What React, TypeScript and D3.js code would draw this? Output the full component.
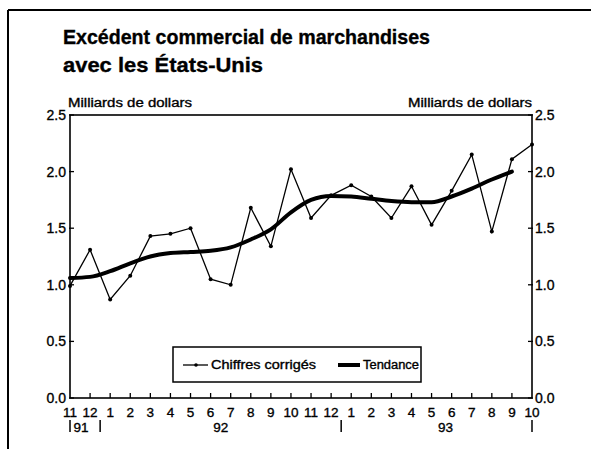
import React from 'react';
import * as d3 from 'd3';

// monthly values, Nov 1991 .. Oct 1993 (billions of dollars)
const monthLabels = ['11', '12', '1', '2', '3', '4', '5', '6', '7', '8', '9', '10', '11', '12', '1', '2', '3', '4', '5', '6', '7', '8', '9', '10'];
const chiffresCorriges = [0.99, 1.31, 0.87, 1.08, 1.43, 1.45, 1.50, 1.05, 1.00, 1.68, 1.34, 2.02, 1.59, 1.79, 1.88, 1.78, 1.59, 1.87, 1.53, 1.83, 2.15, 1.47, 2.11, 2.24];
const tendance = [1.06, 1.07, 1.12, 1.19, 1.25, 1.28, 1.29, 1.30, 1.33, 1.40, 1.49, 1.64, 1.75, 1.785, 1.78, 1.76, 1.74, 1.73, 1.73, 1.78, 1.85, 1.93, 2.00];
const yTicks = [0, 0.5, 1.0, 1.5, 2.0, 2.5];
const years = ['91', '92', '93'];
const yearBreaks = [0, 1.5, 13.5, 23]; // month index of the year separators
const yearLabelPos = [0.55, 7.5, 18.7];

const W = 591, H = 449;
const plot = { left: 70, right: 532, top: 115, bottom: 398 };
const font = '"Liberation Sans", Arial, Helvetica, sans-serif';
// scanned print looks heavier than a plain regular face
const ink = { fill: '#000', stroke: '#000', strokeWidth: 0.35 };

export default function App() {
  const x = d3.scaleLinear().domain([0, monthLabels.length - 1]).range([plot.left, plot.right]);
  const y = d3.scaleLinear().domain([0, 2.5]).range([plot.bottom, plot.top]);

  const dataLine = d3.line<number>().x((d, i) => x(i)).y((d) => y(d));
  const trendLine = d3.line<number>().x((d, i) => x(i)).y((d) => y(d)).curve(d3.curveMonotoneX);

  return (
    <svg width={W} height={H} style={{ position: 'absolute', left: 0, top: 0 }} xmlns="http://www.w3.org/2000/svg">
      <rect width={W} height={H} fill="#fff" />
      {/* page frame */}
      <line x1={8} x2={W} y1={10} y2={10} stroke="#000" strokeWidth={2} />
      <line x1={8} x2={8} y1={10} y2={H} stroke="#000" strokeWidth={2} />

      <text x={63} y={44} fontFamily={font} fontWeight="bold" fontSize={20.5} {...ink}
        textLength={367} lengthAdjust="spacingAndGlyphs">Excédent commercial de marchandises</text>
      <text x={63} y={72} fontFamily={font} fontWeight="bold" fontSize={20.5} {...ink}
        textLength={200} lengthAdjust="spacingAndGlyphs">avec les États-Unis</text>

      <text x={68} y={107} fontFamily={font} fontSize={12.5} {...ink}
        textLength={124} lengthAdjust="spacingAndGlyphs">Milliards de dollars</text>
      <text x={408} y={107} fontFamily={font} fontSize={12.5} {...ink}
        textLength={124} lengthAdjust="spacingAndGlyphs">Milliards de dollars</text>

      {/* plot frame */}
      <rect x={plot.left} y={plot.top} width={plot.right - plot.left} height={plot.bottom - plot.top}
        fill="none" stroke="#000" strokeWidth={1.6} />

      {yTicks.map((v) => (
        <g key={`yt${v}`}>
          <line x1={plot.left - 1} x2={plot.left + 4} y1={y(v)} y2={y(v)} stroke="#000" strokeWidth={1.3} />
          <line x1={plot.right - 4} x2={plot.right + 1} y1={y(v)} y2={y(v)} stroke="#000" strokeWidth={1.3} />
          <text x={66} y={y(v) + 5} textAnchor="end" fontFamily={font} fontSize={14} {...ink}>{v.toFixed(1)}</text>
          <text x={535} y={y(v) + 5} fontFamily={font} fontSize={14} {...ink}>{v.toFixed(1)}</text>
        </g>
      ))}

      {monthLabels.map((m, i) => (
        <g key={`xt${i}`}>
          {i > 0 && i < monthLabels.length - 1 &&
            <line x1={x(i)} x2={x(i)} y1={plot.bottom} y2={plot.bottom - 5} stroke="#000" strokeWidth={1.3} />}
          <text x={x(i)} y={417} textAnchor="middle" fontFamily={font} fontSize={13.5} {...ink}>{m}</text>
        </g>
      ))}

      {yearBreaks.map((b, i) => (
        <line key={`yb${i}`} x1={x(b)} x2={x(b)} y1={420} y2={432} stroke="#000" strokeWidth={1.5} />
      ))}
      {years.map((yr, i) => (
        <text key={`yl${i}`} x={x(yearLabelPos[i])} y={432} textAnchor="middle" fontFamily={font} fontSize={13.5} {...ink}>{yr}</text>
      ))}

      <path d={trendLine(tendance) ?? ''} fill="none" stroke="#000" strokeWidth={4} strokeLinejoin="round" strokeLinecap="round" />
      <path d={dataLine(chiffresCorriges) ?? ''} fill="none" stroke="#000" strokeWidth={1.3} />
      {chiffresCorriges.map((v, i) => (
        <circle key={`pt${i}`} cx={x(i)} cy={y(v)} r={2} fill="#000" />
      ))}

      {/* legend */}
      <rect x={173} y={347} width={248} height={35} fill="#fff" stroke="#000" strokeWidth={1.5} />
      <line x1={183} x2={208} y1={365} y2={365} stroke="#000" strokeWidth={1.3} />
      <circle cx={196} cy={365} r={1.8} fill="#000" />
      <text x={211} y={369} fontFamily={font} fontSize={12} {...ink}
        textLength={105} lengthAdjust="spacingAndGlyphs">Chiffres corrigés</text>
      <line x1={338} x2={360} y1={365} y2={365} stroke="#000" strokeWidth={4} />
      <text x={363} y={369} fontFamily={font} fontSize={12} {...ink}
        textLength={56} lengthAdjust="spacingAndGlyphs">Tendance</text>
    </svg>
  );
}
